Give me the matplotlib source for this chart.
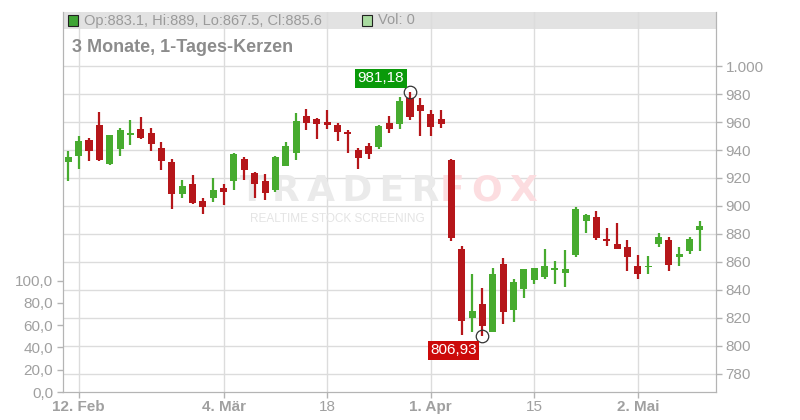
import matplotlib
matplotlib.use('Agg')
import matplotlib.pyplot as plt
from matplotlib.patches import Rectangle

plt.rcParams['font.family'] = ['Liberation Sans', 'DejaVu Sans']

# daily candles (trading-day index 0..61)
opens = [931.6, 936.0, 947.2, 957.9, 930.3, 941.0, 951.0, 955.1, 952.2, 941.5,
         931.5, 908.9, 915.8, 903.6, 906.0, 912.9, 918.1, 933.6, 923.6, 917.9,
         911.7, 928.9, 938.1, 964.3, 962.2, 960.0, 957.9, 953.1, 940.0, 942.9,
         942.4, 959.3, 958.4, 977.4, 972.2, 965.7, 962.2, 932.9, 869.3, 820.3,
         830.0, 810.3, 858.6, 826.0, 841.0, 847.4, 849.3, 854.6, 852.4, 865.3,
         889.5, 892.1, 876.4, 872.9, 870.7, 857.2, 856.5, 873.1, 875.7, 863.8,
         868.1, 883.1]
highs = [939.3, 950.0, 948.6, 967.2, 950.8, 955.8, 961.5, 963.6, 955.8, 945.8,
         933.6, 918.6, 922.2, 905.8, 920.0, 915.8, 938.1, 935.0, 924.3, 922.9,
         935.8, 945.8, 966.5, 969.3, 962.9, 968.6, 959.3, 954.3, 941.2, 945.3,
         957.9, 964.3, 978.1, 981.18, 977.4, 968.6, 968.6, 933.6, 871.5, 851.5,
         841.7, 855.7, 862.9, 847.9, 855.0, 855.7, 869.3, 860.7, 868.6, 899.3,
         894.3, 896.4, 884.3, 887.9, 875.7, 865.0, 864.3, 881.0, 877.9, 870.7,
         877.9, 889.0]
lows = [918.0, 926.7, 932.4, 932.1, 929.6, 936.0, 943.9, 948.2, 939.6, 925.8,
        898.2, 906.0, 901.7, 894.6, 903.1, 901.0, 911.7, 918.9, 906.0, 904.6,
        910.3, 928.9, 933.1, 954.5, 948.1, 955.0, 946.7, 938.1, 926.2, 933.8,
        941.0, 952.2, 955.0, 961.7, 950.3, 950.3, 956.0, 875.3, 808.0, 810.3,
        806.93, 810.3, 816.0, 817.4, 834.6, 844.6, 847.9, 844.6, 842.4, 863.8,
        881.0, 875.7, 871.7, 869.3, 853.8, 848.1, 851.7, 871.0, 853.8, 857.4,
        866.0, 867.5]
closes = [935.0, 946.5, 939.6, 932.9, 950.8, 954.3, 952.2, 948.9, 944.6, 932.4,
          908.9, 914.3, 902.4, 899.6, 911.5, 910.3, 937.2, 926.0, 916.0, 909.6,
          935.0, 942.9, 960.8, 959.5, 958.8, 958.1, 953.1, 951.7, 934.5, 936.9,
          957.2, 955.0, 975.0, 963.8, 967.9, 956.7, 958.8, 877.4, 818.1, 825.0,
          813.9, 851.5, 824.6, 845.8, 855.0, 855.7, 857.2, 855.7, 855.0, 897.9,
          893.6, 877.4, 875.0, 869.3, 863.8, 851.7, 857.2, 877.9, 858.1, 865.7,
          876.4, 885.6]

date_ticks = [1, 15, 25, 35, 45, 55]
date_labels = ['12. Feb', '4. Mär', '18', '1. Apr', '15', '2. Mai']
price_ticks = [780, 800, 820, 840, 860, 880, 900, 920, 940, 960, 980, 1000]
vol_ticks = [0, 20, 40, 60, 80, 100]

max_idx, max_val = 33, 981.18
min_idx, min_val = 40, 806.93

GREEN = '#47ab2f'
RED = '#b5161a'
GRID = '#dcdcdc'
AXCOL = '#b4b4b4'
TXT = '#a0a0a0'

fig = plt.figure(figsize=(8, 4.2), dpi=100)
ax = fig.add_axes([63/800, 28/420, 653/800, 380/420])
ax.set_axisbelow(True)
# volume axis (left) - all volumes are zero, so only the scale is shown
ax2 = ax.twinx()

# candles
for i in range(len(opens)):
    o, h, l, c = opens[i], highs[i], lows[i], closes[i]
    col = GREEN if c >= o else RED
    ax.vlines(i, l, h, color=col, lw=1.6, zorder=3)
    ax.bar(i, max(abs(c - o), 0.9), bottom=min(o, c), width=0.68,
           color=col, zorder=3)

ax.set_xlim(-0.51, 62.55)
ax.set_ylim(767.1, 1038.6)

ax.yaxis.tick_right()
ax.yaxis.set_label_position('right')
ax.set_yticks(price_ticks)
ax.set_yticklabels(['1.000' if v == 1000 else str(v) for v in price_ticks])
ax.set_xticks(date_ticks)
ax.set_xticklabels(date_labels)
for lab in ax.get_xticklabels():
    if not lab.get_text().isdigit():
        lab.set_fontweight('bold')

ax.grid(True, color=GRID, lw=1)
ax.tick_params(axis='both', colors=AXCOL, labelcolor=TXT, labelsize=11,
               length=4, width=1, pad=3)
ax.tick_params(axis='x', pad=2)
ax.spines['top'].set_visible(False)
for s in ['left', 'right', 'bottom']:
    ax.spines[s].set_color(AXCOL)

ax2.yaxis.tick_left()
ax2.set_ylim(0, 341.4)
ax2.set_yticks(vol_ticks)
ax2.set_yticklabels(['%d,0' % v for v in vol_ticks])
ax2.tick_params(axis='y', colors=AXCOL, labelcolor=TXT, labelsize=11,
                length=4, width=1, pad=3)
ax2.spines['top'].set_visible(False)
for s in ['left', 'right', 'bottom']:
    ax2.spines[s].set_color(AXCOL)

# header bar
ax.add_patch(Rectangle((0, 1 - 17/380), 1, 17/380, transform=ax.transAxes,
                       fc='#e2e2e2', ec='none', zorder=0.2, clip_on=False))
fig.patches.append(Rectangle((68/800, 1 - 26/420), 10/800, 11/420,
                             transform=fig.transFigure, fc='#3fa535',
                             ec='#222222', lw=0.8))
fig.patches.append(Rectangle((362/800, 1 - 26/420), 10/800, 11/420,
                             transform=fig.transFigure, fc='#a9dba0',
                             ec='#222222', lw=0.8))
fig.text(84/800, 1 - 20.5/420, 'Op:883.1, Hi:889, Lo:867.5, Cl:885.6',
         color='#9a9a9a', fontsize=10.5, va='center')
fig.text(378/800, 1 - 20.5/420, 'Vol: 0', color='#9a9a9a', fontsize=10.5,
         va='center')
fig.text(72/800, 1 - 48/420, '3 Monate, 1-Tages-Kerzen', color='#8c8c8c',
         fontsize=13, fontweight='bold', va='center')

# watermark
ax.text(0.577, 0.529, '\u2009'.join('TRADER'), transform=ax.transAxes,
        ha='right', va='center', fontsize=26, fontweight='bold',
        color='#eaeaea', family='DejaVu Sans', zorder=1)
ax.text(0.577, 0.529, '\u2009'.join('FOX'), transform=ax.transAxes,
        ha='left', va='center', fontsize=26, fontweight='bold',
        color='#fcdde0', family='DejaVu Sans', zorder=1)
ax.text(0.286, 0.455, 'REALTIME STOCK SCREENING', transform=ax.transAxes,
        ha='left', va='center', fontsize=8.5, color='#e4e4e4', zorder=1)

# high / low markers
ax.plot(max_idx, max_val, 'o', mfc='none', mec='#333333', ms=9, mew=0.9,
        zorder=5)
ax.plot(min_idx, min_val, 'o', mfc='none', mec='#333333', ms=9, mew=0.9,
        zorder=5)
ax.annotate('981,18', xy=(max_idx, max_val), xytext=(-29, 14),
            textcoords='offset pixels', ha='center', va='center',
            color='white', fontsize=11, zorder=6,
            bbox=dict(boxstyle='square,pad=0.15', fc='#0a9a0a', ec='none'))
ax.annotate('806,93', xy=(min_idx, min_val), xytext=(-29, -14),
            textcoords='offset pixels', ha='center', va='center',
            color='white', fontsize=11, zorder=6,
            bbox=dict(boxstyle='square,pad=0.15', fc='#cc0a0a', ec='none'))

fig.savefig('out.png', dpi=100)
